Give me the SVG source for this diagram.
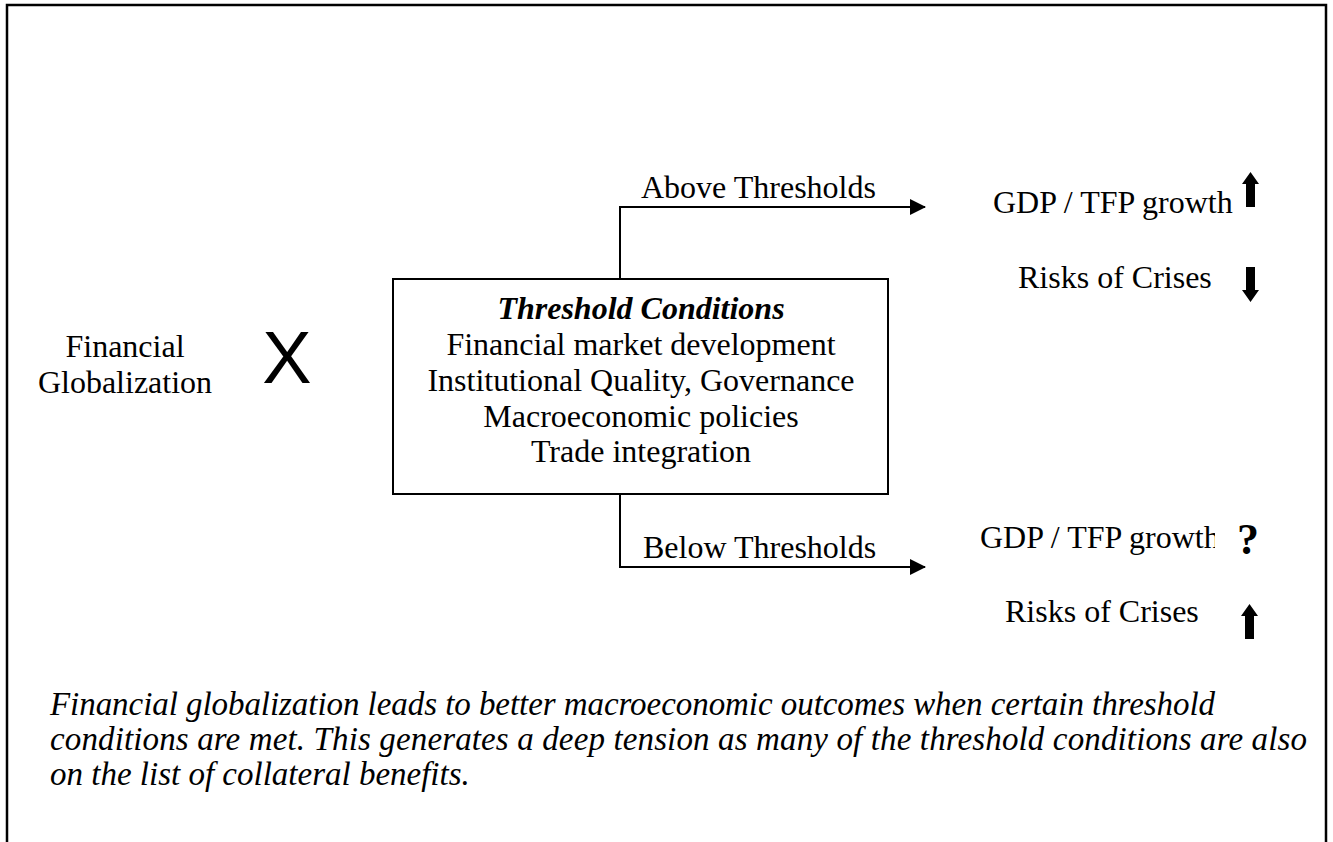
<svg xmlns="http://www.w3.org/2000/svg" width="1333" height="842" viewBox="0 0 1333 842">
<style>
.t{font-family:"Liberation Serif","Times New Roman",serif;font-size:32px;fill:#000}
.c{text-anchor:middle}
.it{font-style:italic}
.b{font-weight:bold}
.cap{font-size:33px}
.q{font-size:44px}
.ln{stroke:#000;stroke-width:2;fill:none}
</style>
<defs>
<marker id="ah" markerWidth="16" markerHeight="16" refX="15" refY="8" orient="auto" markerUnits="userSpaceOnUse">
<path d="M0,0 L16,8 L0,16 Z" fill="#000"/>
</marker>
<path id="up" d="M0,0 L8.5,12 L4.5,12 L4.5,35 L-4.5,35 L-4.5,12 L-8.5,12 Z" fill="#000"/>
<clipPath id="clipg"><rect x="960" y="500" width="255" height="70"/></clipPath>
</defs>
<rect width="1333" height="842" fill="#fff"/>
<path d="M7,842 L7,5 L1326,5 L1326,842" stroke="#000" stroke-width="2.5" fill="none"/>

<g id="connectors">
<path class="ln" d="M620,279 L620,207 L925,207" marker-end="url(#ah)"/>
<path class="ln" d="M620,494 L620,567 L925,567" marker-end="url(#ah)"/>
<text class="t" x="641" y="198">Above Thresholds</text>
<text class="t" x="643" y="558">Below Thresholds</text>
</g>

<g id="financial-globalization">
<text class="t c" x="125" y="357">Financial</text>
<text class="t c" x="125" y="393">Globalization</text>
</g>

<g id="times">
<text x="287" y="383" font-family="Liberation Sans, Arial, sans-serif" font-size="74" text-anchor="middle">X</text>
</g>

<g id="threshold-conditions">
<rect x="393" y="279" width="495" height="215" fill="#fff" stroke="#000" stroke-width="2"/>
<text class="t c it b" x="641" y="319">Threshold Conditions</text>
<text class="t c" x="641" y="355">Financial market development</text>
<text class="t c" x="641" y="391">Institutional Quality, Governance</text>
<text class="t c" x="641" y="427">Macroeconomic policies</text>
<text class="t c" x="641" y="462">Trade integration</text>
</g>

<g id="above-outcomes">
<text class="t" x="993" y="213">GDP / TFP growth</text>
<use href="#up" x="1250.5" y="172"/>
<text class="t" x="1018" y="288">Risks of Crises</text>
<use href="#up" transform="translate(1250.5,302) scale(1,-1)"/>
</g>

<g id="below-outcomes">
<text class="t" x="980" y="548" clip-path="url(#clipg)">GDP / TFP growth</text>
<text class="t b q" x="1237" y="554">?</text>
<text class="t" x="1005" y="622">Risks of Crises</text>
<use href="#up" x="1249.5" y="604"/>
</g>

<g id="caption">
<text class="t it cap" x="50" y="715" textLength="1165" lengthAdjust="spacing">Financial globalization leads to better macroeconomic outcomes when certain threshold</text>
<text class="t it cap" x="50" y="750" textLength="1257" lengthAdjust="spacing">conditions are met. This generates a deep tension as many of the threshold conditions are also</text>
<text class="t it cap" x="50" y="785">on the list of collateral benefits.</text>
</g>
</svg>
